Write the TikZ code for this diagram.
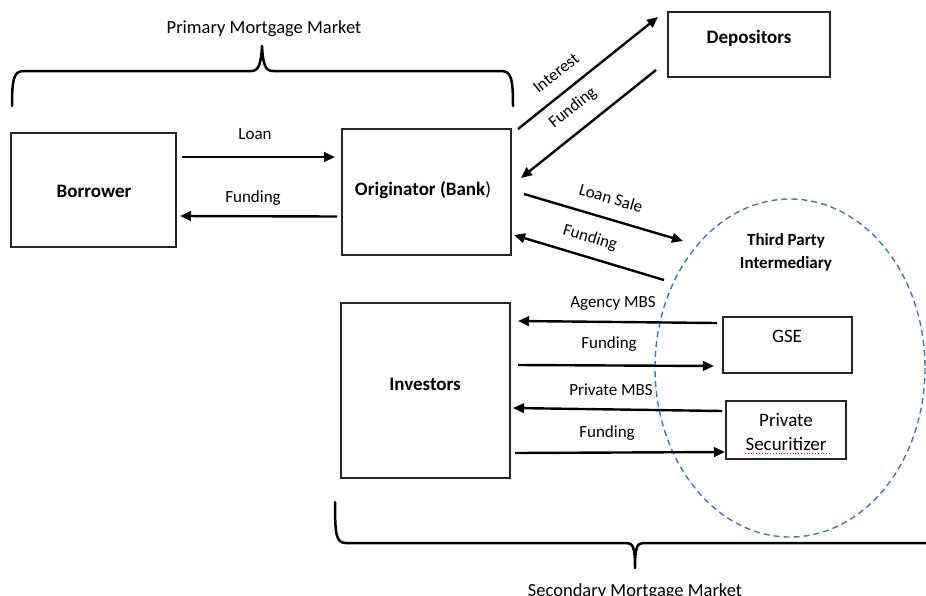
\documentclass[tikz,border=0pt]{standalone}
\usepackage{fontspec}
\setmainfont{Carlito}
\usetikzlibrary{arrows.meta}
\definecolor{ellblue}{RGB}{68,114,196}
\begin{document}
\begin{tikzpicture}[x=1pt,y=-1pt,
  box/.style={draw=black!85, line width=1.1pt, inner sep=0pt},
  flow/.style={line width=2.4pt, -{Triangle[length=11pt,width=9.5pt]}},
  lbl/.style={font=\fontsize{17}{20}\selectfont, inner sep=0pt, anchor=base},
  rlbl/.style={font=\fontsize{17}{20}\selectfont, inner sep=0pt},
  boxtxt/.style={font=\fontsize{19}{23}\selectfont\bfseries, inner sep=0pt, anchor=base},
  tpitxt/.style={font=\fontsize{17}{20}\selectfont\bfseries, inner sep=0pt, anchor=base},
  plaintxt/.style={font=\fontsize{19}{23}\selectfont, inner sep=0pt, anchor=base},
  mtitle/.style={font=\fontsize{18.5}{22}\selectfont, inner sep=0pt, anchor=base},
  brace/.style={line width=2.5pt, line join=round, line cap=round}]
\useasboundingbox (0,0) rectangle (926,595);

% third party intermediary (dashed ellipse)
\draw[ellblue, line width=1.4pt, dash pattern=on 6pt off 4pt] (790,368) ellipse [x radius=135, y radius=169];

% boxes
\node[box, minimum width=165pt, minimum height=114pt] (bor) at (93.5,190) {};
\node[box, minimum width=169pt, minimum height=126pt] (orig) at (426.5,192) {};
\node[box, minimum width=162pt, minimum height=65pt] (dep) at (749,44.5) {};
\node[box, minimum width=169pt, minimum height=175pt] (inv) at (425.5,390.5) {};
\node[box, minimum width=129pt, minimum height=56pt] (gse) at (787.5,345) {};
\node[box, minimum width=120pt, minimum height=58pt] (ps) at (786,430) {};

% box texts
\node[boxtxt] (borT) at (94,197) {Borrower};
\node[boxtxt] (origT) at (423,195) {Originator (Bank\textmd{)}};
\node[boxtxt] (depT) at (749,43) {Depositors};
\node[boxtxt] (invT) at (425,390) {Investors};
\node[plaintxt] (gseT) at (787,342) {GSE};
\node[plaintxt] (psT1) at (786,426) {Private};
\node[plaintxt] (psT2) at (786,450) {Securitizer};
\node[tpitxt] (tpi1) at (786,245) {Third Party};
\node[tpitxt] (tpi2) at (786,268) {Intermediary};
\draw[red, line width=0.8pt, dotted] (745,453) -- (830,453);

% connector end points
\coordinate (loanS) at (182,157);   \coordinate (loanE) at (335,157);
\coordinate (fundS) at (337,216.5); \coordinate (fundE) at (180,216);
\coordinate (intS) at (518,129);    \coordinate (intE) at (658,17);
\coordinate (dfS) at (656,70);      \coordinate (dfE) at (521,178);
\coordinate (lsS) at (524,194);     \coordinate (lsE) at (683,241);
\coordinate (tfS) at (664,280);     \coordinate (tfE) at (514,235);
\coordinate (amS) at (717,323);     \coordinate (amE) at (518,321);
\coordinate (gfS) at (518,365);     \coordinate (gfE) at (714,366);
\coordinate (pmS) at (722,411);     \coordinate (pmE) at (513,408);
\coordinate (pfS) at (515,453);     \coordinate (pfE) at (725,452);

% connectors
\draw[flow] (loanS) -- (loanE);
\draw[flow] (fundS) -- (fundE);
\draw[flow] (intS) -- (intE);
\draw[flow] (dfS) -- (dfE);
\draw[flow] (lsS) -- (lsE);
\draw[flow] (tfS) -- (tfE);
\draw[flow] (amS) -- (amE);
\draw[flow] (gfS) -- (gfE);
\draw[flow] (pmS) -- (pmE);
\draw[flow] (pfS) -- (pfE);

% connector labels
\node[lbl] (loanL) at (255,139) {Loan};
\node[lbl] (fundL) at (253,202) {Funding};
\node[rlbl, rotate=38.7] (intL) at (556,73) {Interest};
\node[rlbl, rotate=38.7] (dfL) at (573,108) {Funding};
\node[rlbl, rotate=-16.5] (lsL) at (611,198) {Loan Sale};
\node[rlbl, rotate=-16.7] (tfL) at (590,238) {Funding};
\node[lbl] (amL) at (613,307) {Agency MBS};
\node[lbl] (gfL) at (609,348) {Funding};
\node[lbl] (pmL) at (611,395) {Private MBS};
\node[lbl] (pfL) at (607,437) {Funding};

% braces
\draw[brace] (12,106) .. controls (12,78) and (14,71) .. (24,71) -- (251,71)
  .. controls (258,71) and (261,66) .. (262,46)
  .. controls (263,66) and (266,71) .. (273,71) -- (501,71)
  .. controls (511,71) and (513,78) .. (513,106);
\node[mtitle] (prim) at (264,33.5) {Primary Mortgage Market};

\draw[brace] (335,502) .. controls (335,535) and (336,543) .. (346,543) -- (627,543)
  .. controls (633,543) and (635,548) .. (635,568)
  .. controls (635,548) and (637,543) .. (643,543) -- (935,543);
\node[mtitle] (sec) at (635,596) {Secondary Mortgage Market};
\end{tikzpicture}
\end{document}
